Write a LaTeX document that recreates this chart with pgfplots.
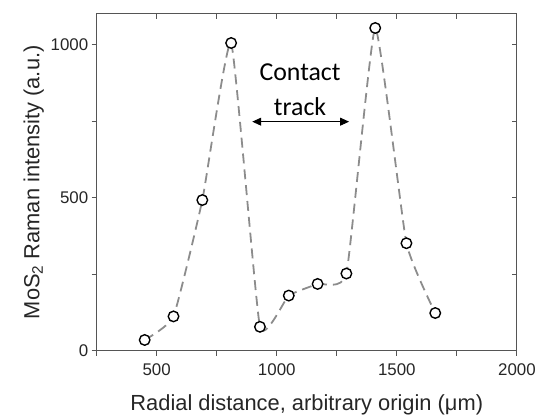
\documentclass[border=0pt]{standalone}
\usepackage{pgfplots}
\pgfplotsset{compat=1.18}
\usepackage{fontspec}
\setmainfont{Liberation Sans}
\newfontfamily\calibri{Carlito}
\usetikzlibrary{arrows.meta}
\definecolor{axgray}{HTML}{555555}
\definecolor{dashgray}{HTML}{8C8C8C}
\pgfplotsset{
  common/.style={
    scale only axis, width=423pt, height=339pt,
    xmin=250, xmax=2000, ymin=0, ymax=1100,
    xtick={500,1000,1500,2000}, minor xtick={250,750,1250,1750},
    ytick={0,500,1000}, minor ytick={250,750},
    major tick length=5pt, minor tick length=5pt,
    axis line style={draw=axgray, line width=1pt},
    every tick/.style={draw=axgray, line width=1pt},
    every minor tick/.style={draw=axgray, line width=1pt},
  }
}
\pgfplotstableread{
x y
450 35
570 112
690 492
810 1005
930 78
1050 180
1170 218
1290 252
1410 1054
1540 351
1660 123
}\ramandata
\begin{document}
\begin{tikzpicture}
\begin{axis}[common,
  tick align=outside, xtick pos=bottom, ytick pos=left,
  ticklabel style={font=\fontsize{17}{20}\selectfont, text=black!85},
  xticklabel style={yshift=-5pt},
  /pgf/number format/assume math mode=true,
  /pgf/number format/1000 sep={},
  xlabel={Radial distance, arbitrary origin (μm)},
  ylabel={MoS\textsubscript{2} Raman intensity (a.u.)},
  label style={font=\fontsize{22}{26}\selectfont, text=black!85},
  xlabel style={yshift=-12pt},
]
\addplot[dashgray, line width=1.8pt, dash pattern=on 10pt off 6pt, smooth, tension=0.25] table {\ramandata};
\addplot[only marks, mark=*, mark size=5.3pt, mark options={fill=white, draw=black, line width=1.4pt}] table {\ramandata};
\node[font=\calibri\fontsize{26}{28}\selectfont] at (axis cs:1097,908) {Contact};
\node[font=\calibri\fontsize{26}{28}\selectfont] at (axis cs:1097,798) {track};
\draw[{Triangle[length=9pt,width=8pt]}-{Triangle[length=9pt,width=8pt]}, line width=0.9pt] (axis cs:898,748) -- (axis cs:1301,748);
\end{axis}
\begin{axis}[common,
  tick align=inside, xtick pos=top, ytick pos=right,
  xticklabels={}, yticklabels={},
]
\end{axis}
\path (current axis.south west) ++(-97.3pt,-65pt);
\path (current axis.north east) ++(19pt,14pt);
\end{tikzpicture}
\end{document}
